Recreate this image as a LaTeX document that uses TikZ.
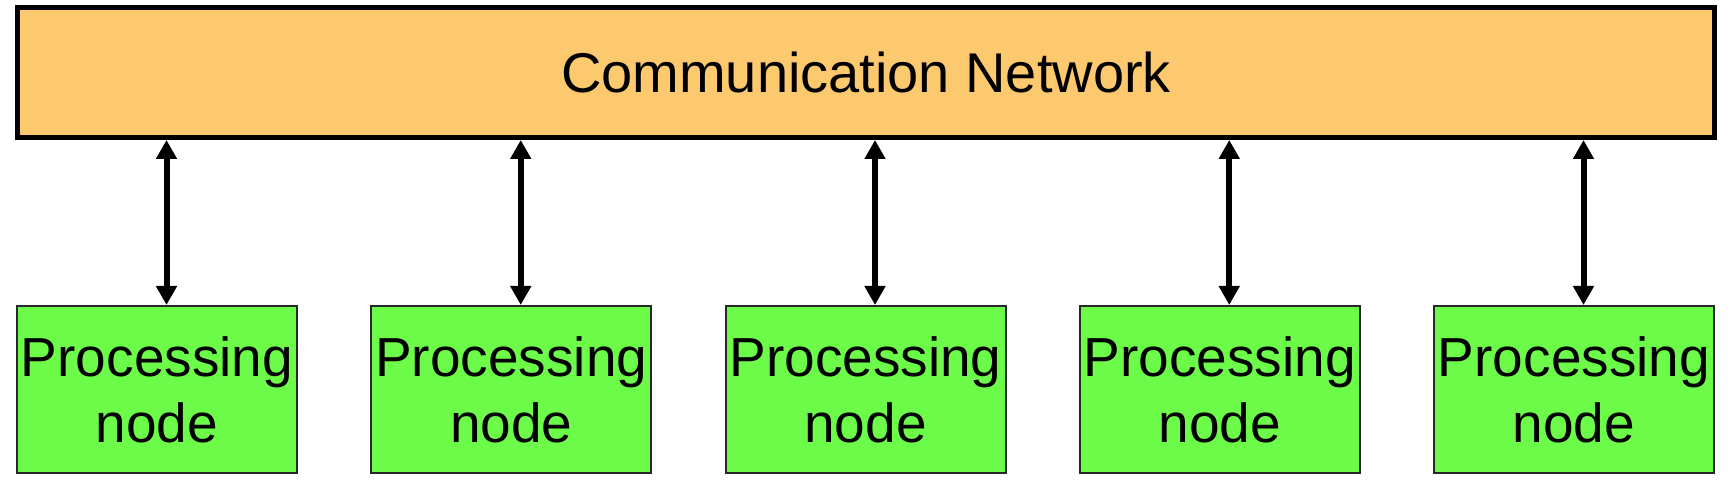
\documentclass[tikz,border=0pt]{standalone}
\usepackage{fontspec}
\setmainfont{Liberation Sans}
\usepackage{tikz}
\usetikzlibrary{calc,arrows.meta}

\definecolor{netorange}{RGB}{252,201,110}
\definecolor{procgreen}{RGB}{108,251,72}
\definecolor{procborder}{RGB}{40,40,40}

\begin{document}
\begin{tikzpicture}[x=0.5pt,y=-0.5pt,
      network/.style = {draw, line width=2.5pt, fill=netorange, minimum width=848.75pt,
                        minimum height=65pt, inner sep=0pt,
                        font=\fontsize{28pt}{33pt}\selectfont},
      procbox/.style = {draw=procborder, line width=1pt, fill=procgreen, minimum width=140pt,
                        minimum height=83.5pt, inner sep=0pt, align=center,
                        font=\fontsize{27.5pt}{33pt}\selectfont},
      link/.style = {line width=3pt, {Triangle[length=9.5pt,width=10pt]}-{Triangle[length=9.5pt,width=10pt]}}
      ]
      \useasboundingbox (0,0) rectangle (1730,490);

      \node[network] (net) at (866,72.5) {Communication Network};

      \node[procbox] (p1) at (157,389.5) {Processing\\node};
      \node[procbox] (p2) at (511.25,389.5) {Processing\\node};
      \node[procbox] (p3) at (865.5,389.5) {Processing\\node};
      \node[procbox] (p4) at (1219.75,389.5) {Processing\\node};
      \node[procbox] (p5) at (1574,389.5) {Processing\\node};

      \draw[link] ([xshift=4.75pt]p1.north |- net.south) -- ([xshift=4.75pt]p1.north);
      \draw[link] ([xshift=4.75pt]p2.north |- net.south) -- ([xshift=4.75pt]p2.north);
      \draw[link] ([xshift=4.75pt]p3.north |- net.south) -- ([xshift=4.75pt]p3.north);
      \draw[link] ([xshift=4.75pt]p4.north |- net.south) -- ([xshift=4.75pt]p4.north);
      \draw[link] ([xshift=4.75pt]p5.north |- net.south) -- ([xshift=4.75pt]p5.north);
    \end{tikzpicture}
\end{document}
